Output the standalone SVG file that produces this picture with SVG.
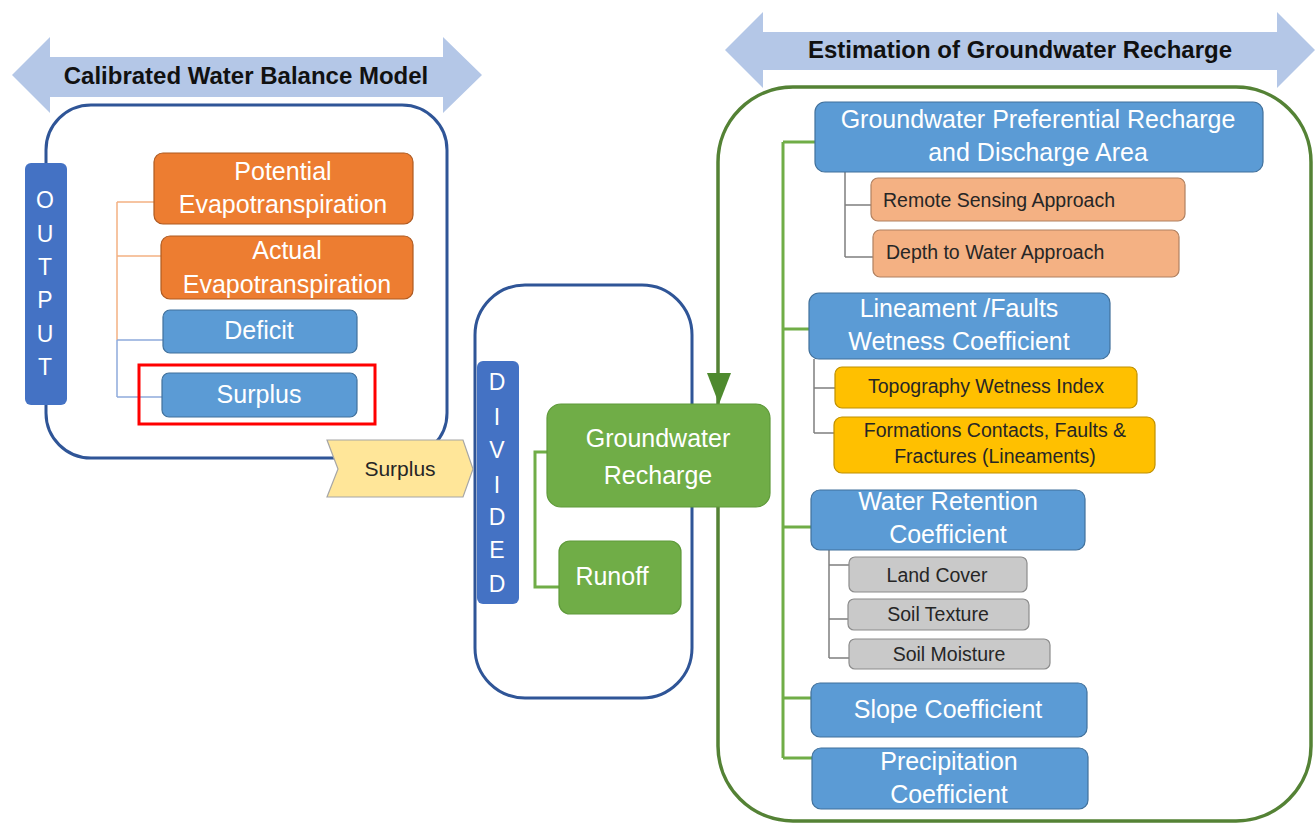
<svg xmlns="http://www.w3.org/2000/svg" width="1316" height="823" viewBox="0 0 1316 823">
<style>
text{font-family:"Liberation Sans",Arial,sans-serif}
.title{font-weight:bold;font-size:24px;fill:#111;text-anchor:middle}
.wt{fill:#fff;font-size:25px;text-anchor:middle}
.dk{fill:#262626;font-size:19.5px}
.lt{fill:#fff;font-size:23px;text-anchor:middle}
.band{fill:#b4c7e7}
.cont{fill:none;stroke:#2f5597;stroke-width:3}
.blue{fill:#5b9bd5;stroke:#41719c;stroke-width:1.2}
.orange{fill:#ed7d31;stroke:#ae5a21;stroke-width:1.2}
.bar{fill:#4472c4}
.green{fill:#70ad47;stroke:#5f9a3a;stroke-width:1.2}
.salmon{fill:#f4b183;stroke:#b08060;stroke-width:1.2}
.yellow{fill:#ffc000;stroke:#bf9000;stroke-width:1.2}
.gray{fill:#c9c9c9;stroke:#8c8c8c;stroke-width:1.2}
.gl{fill:none;stroke:#70ad47;stroke-width:3}
.gy{fill:none;stroke:#7f7f7f;stroke-width:1.5}
</style>

<g id="band-left">
<path class="band" d="M12,75 L50,37 L50,57 L443,57 L443,37 L482,75 L443,113 L443,97 L50,97 L50,113 Z"/>
<text class="title" x="246" y="84">Calibrated Water Balance Model</text>
</g>
<g id="band-right">
<path class="band" d="M725,50 L763,12 L763,32 L1277,32 L1277,12 L1315,50 L1277,88 L1277,70 L763,70 L763,88 Z"/>
<text class="title" x="1020" y="58">Estimation of Groundwater Recharge</text>
</g>

<g id="container-left"><rect class="cont" x="46" y="105" width="401" height="353" rx="45"/></g>
<g id="container-mid"><rect class="cont" x="475" y="285" width="217" height="413" rx="50"/></g>
<g id="container-right"><rect x="718" y="87" width="593" height="734" rx="75" fill="none" stroke="#548235" stroke-width="3.5"/></g>

<g id="connectors">
<path d="M117,202 V340 M117,202 H154 M117,256 H161" fill="none" stroke="#f4b183" stroke-width="1.5"/>
<path d="M117,340 V397 M117,340 H163 M117,397 H162" fill="none" stroke="#8faadc" stroke-width="1.5"/>
<path class="gl" d="M547,452 H535 V587 H559" stroke-width="2.2"/>
<polygon points="707,373 731,373 719,404" fill="#4e8a2e"/>
<path class="gl" d="M783,142 V758 M783,142 H815 M783,329 H809 M783,527 H811 M783,698 H811 M783,758 H812"/>
<path class="gy" d="M845,172 V257 M845,205 H871 M845,257 H873"/>
<path class="gy" d="M814,359 V433 M814,388 H835 M814,433 H834"/>
<path class="gy" d="M829,550 V658 M829,565 H849 M829,619 H848 M829,658 H849"/>
</g>

<g id="output">
<rect class="bar" x="25" y="163" width="42" height="242" rx="6"/>
<text class="lt" x="45" y="208">O</text>
<text class="lt" x="45" y="242">U</text>
<text class="lt" x="45" y="275">T</text>
<text class="lt" x="45" y="308">P</text>
<text class="lt" x="45" y="342">U</text>
<text class="lt" x="45" y="375">T</text>
</g>
<g id="potential-et">
<rect class="orange" x="154" y="153" width="259" height="71" rx="9"/>
<text class="wt" x="283" y="180">Potential</text>
<text class="wt" x="283" y="213">Evapotranspiration</text>
</g>
<g id="actual-et">
<rect class="orange" x="161" y="236" width="252" height="63" rx="9"/>
<text class="wt" x="287" y="259">Actual</text>
<text class="wt" x="287" y="293">Evapotranspiration</text>
</g>
<g id="deficit">
<rect class="blue" x="163" y="310" width="194" height="43" rx="7"/>
<text class="wt" x="259" y="339">Deficit</text>
</g>
<g id="surplus">
<rect class="blue" x="162" y="373" width="195" height="44" rx="7"/>
<text class="wt" x="259" y="403">Surplus</text>
<rect x="139" y="365" width="236" height="59" fill="none" stroke="#ff0000" stroke-width="3"/>
</g>
<g id="surplus-arrow">
<polygon points="327,440 463,440 473,469 463,497 327,497 338,469" fill="#ffe699" stroke="#a6a6a6" stroke-width="1.2"/>
<text x="400" y="476" font-size="21" fill="#262626" text-anchor="middle">Surplus</text>
</g>

<g id="divided">
<rect class="bar" x="477" y="361" width="42" height="243" rx="6"/>
<text class="lt" x="497" y="390">D</text>
<text class="lt" x="497" y="425">I</text>
<text class="lt" x="497" y="458">V</text>
<text class="lt" x="497" y="493">I</text>
<text class="lt" x="497" y="525">D</text>
<text class="lt" x="497" y="558">E</text>
<text class="lt" x="497" y="592">D</text>
</g>
<g id="gw-recharge">
<rect class="green" x="547" y="404" width="223" height="103" rx="14"/>
<text class="wt" x="658" y="447" font-size="27">Groundwater</text>
<text class="wt" x="658" y="484" font-size="27">Recharge</text>
</g>
<g id="runoff">
<rect class="green" x="559" y="541" width="122" height="73" rx="11"/>
<text class="wt" x="612" y="585">Runoff</text>
</g>

<g id="gpr">
<rect class="blue" x="815" y="102" width="448" height="70" rx="10"/>
<text class="wt" x="1038" y="128">Groundwater Preferential Recharge</text>
<text class="wt" x="1038" y="161">and Discharge Area</text>
</g>
<g id="remote-sensing">
<rect class="salmon" x="871" y="178" width="314" height="43" rx="7"/>
<text class="dk" x="883" y="207">Remote Sensing Approach</text>
</g>
<g id="depth-water">
<rect class="salmon" x="873" y="230" width="306" height="47" rx="7"/>
<text class="dk" x="886" y="259">Depth to Water Approach</text>
</g>
<g id="lineament">
<rect class="blue" x="809" y="293" width="301" height="66" rx="10"/>
<text class="wt" x="959" y="317">Lineament /Faults</text>
<text class="wt" x="959" y="350">Wetness Coefficient</text>
</g>
<g id="twi">
<rect class="yellow" x="835" y="367" width="302" height="41" rx="7"/>
<text class="dk" x="986" y="393" text-anchor="middle">Topography Wetness Index</text>
</g>
<g id="formations">
<rect class="yellow" x="834" y="417" width="321" height="56" rx="8"/>
<text class="dk" x="995" y="437" text-anchor="middle">Formations Contacts, Faults &amp;</text>
<text class="dk" x="995" y="463" text-anchor="middle">Fractures (Lineaments)</text>
</g>
<g id="water-retention">
<rect class="blue" x="811" y="490" width="274" height="60" rx="9"/>
<text class="wt" x="948" y="510">Water Retention</text>
<text class="wt" x="948" y="543">Coefficient</text>
</g>
<g id="land-cover">
<rect class="gray" x="849" y="557" width="178" height="35" rx="6"/>
<text class="dk" x="937" y="582" text-anchor="middle">Land Cover</text>
</g>
<g id="soil-texture">
<rect class="gray" x="848" y="599" width="181" height="31" rx="6"/>
<text class="dk" x="938" y="621" text-anchor="middle">Soil Texture</text>
</g>
<g id="soil-moisture">
<rect class="gray" x="849" y="639" width="201" height="30" rx="6"/>
<text class="dk" x="949" y="661" text-anchor="middle">Soil Moisture</text>
</g>
<g id="slope">
<rect class="blue" x="811" y="683" width="276" height="54" rx="9"/>
<text class="wt" x="948" y="718">Slope Coefficient</text>
</g>
<g id="precipitation">
<rect class="blue" x="812" y="748" width="276" height="61" rx="9"/>
<text class="wt" x="949" y="770">Precipitation</text>
<text class="wt" x="949" y="803">Coefficient</text>
</g>
</svg>
